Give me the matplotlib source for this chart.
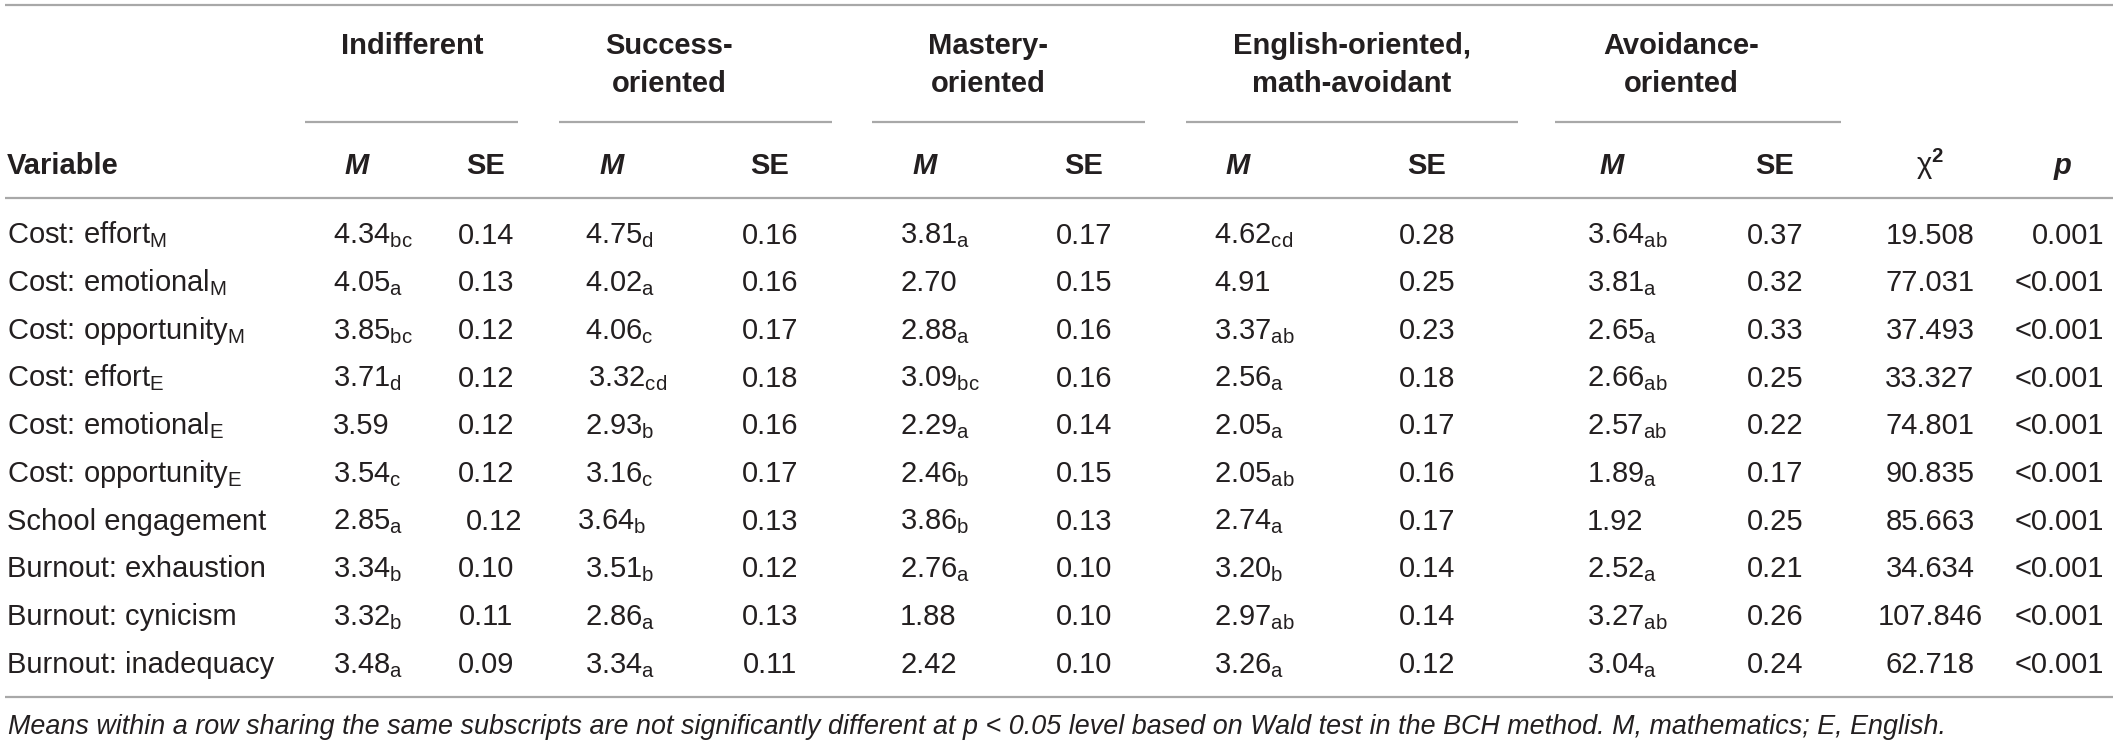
import matplotlib
matplotlib.use("Agg")
import matplotlib.pyplot as plt

#%%
# table content
VARIABLES = ["Cost: effort", "Cost: emotional", "Cost: opportunity",
             "Cost: effort", "Cost: emotional", "Cost: opportunity",
             "School engagement", "Burnout: exhaustion", "Burnout: cynicism",
             "Burnout: inadequacy"]
VAR_SUBS = ["M", "M", "M", "E", "E", "E", "", "", "", ""]

GROUPS = [["Indifferent"], ["Success-", "oriented"], ["Mastery-", "oriented"],
          ["English-oriented,", "math-avoidant"], ["Avoidance-", "oriented"]]

indiff_m = ["4.34", "4.05", "3.85", "3.71", "3.59", "3.54", "2.85", "3.34", "3.32", "3.48"]
indiff_sub = ["bc", "a", "bc", "d", "", "c", "a", "b", "b", "a"]
indiff_se = ["0.14", "0.13", "0.12", "0.12", "0.12", "0.12", "0.12", "0.10", "0.11", "0.09"]

success_m = ["4.75", "4.02", "4.06", "3.32", "2.93", "3.16", "3.64", "3.51", "2.86", "3.34"]
success_sub = ["d", "a", "c", "cd", "b", "c", "b", "b", "a", "a"]
success_se = ["0.16", "0.16", "0.17", "0.18", "0.16", "0.17", "0.13", "0.12", "0.13", "0.11"]

mastery_m = ["3.81", "2.70", "2.88", "3.09", "2.29", "2.46", "3.86", "2.76", "1.88", "2.42"]
mastery_sub = ["a", "", "a", "bc", "a", "b", "b", "a", "", ""]
mastery_se = ["0.17", "0.15", "0.16", "0.16", "0.14", "0.15", "0.13", "0.10", "0.10", "0.10"]

english_m = ["4.62", "4.91", "3.37", "2.56", "2.05", "2.05", "2.74", "3.20", "2.97", "3.26"]
english_sub = ["cd", "", "ab", "a", "a", "ab", "a", "b", "ab", "a"]
english_se = ["0.28", "0.25", "0.23", "0.18", "0.17", "0.16", "0.17", "0.14", "0.14", "0.12"]

avoid_m = ["3.64", "3.81", "2.65", "2.66", "2.57", "1.89", "1.92", "2.52", "3.27", "3.04"]
avoid_sub = ["ab", "a", "a", "ab", "ab", "a", "", "a", "ab", "a"]
avoid_se = ["0.37", "0.32", "0.33", "0.25", "0.22", "0.17", "0.25", "0.21", "0.26", "0.24"]

chi2 = ["19.508", "77.031", "37.493", "33.327", "74.801", "90.835", "85.663",
        "34.634", "107.846", "62.718"]
p_vals = ["0.001", "<0.001", "<0.001", "<0.001", "<0.001", "<0.001", "<0.001",
          "<0.001", "<0.001", "<0.001"]

FOOTNOTE = ("Means within a row sharing the same subscripts are not significantly "
            "different at p < 0.05 level based on Wald test in the BCH method. "
            "M, mathematics; E, English.")

#%%
# layout (pixel units of the 2118x743 picture)
W, H = 2118, 743
M_LEFT = [333, 585, 900, 1214, 1587]       # left edge of mean values
M_HEAD = [357, 612, 925, 1238, 1612]       # centre of "M" header
SE_X = [486, 770, 1084, 1427, 1775]        # centre of SE column
GROUP_X = [412, 669, 988, 1352, 1681]      # centre of group title
SPANS = [(305, 518), (559, 832), (872, 1145), (1186, 1518), (1555, 1841)]
CHI_X, P_X = 1930, 2104
ROW0, ROW_STEP = 233, 47.7
# small hand offsets seen in the original typesetting (row, column) -> dx
NUDGE = {(6, "se0"): 8, (6, "m1"): -8, (3, "m1"): 3}

TXT = "#231f20"
RULE = "#a8a8a8"
FS = 21

plt.rcParams['font.family'] = ['Liberation Sans', 'DejaVu Sans']
plt.rcParams['mathtext.fontset'] = 'custom'
plt.rcParams['mathtext.rm'] = 'Liberation Sans'
plt.rcParams['mathtext.it'] = 'Liberation Sans:italic'
plt.rcParams['mathtext.bf'] = 'Liberation Sans:bold'

fig = plt.figure(figsize=(W / 100, H / 100), dpi=100)
ax = fig.add_axes([0, 0, 1, 1])
ax.set_xlim(0, W)
ax.set_ylim(H, 0)
ax.axis('off')

BASE = 10.5  # centre -> baseline


def put(x, y, s, ha="left", fs=FS, **kw):
    ax.text(x, y + BASE, s, ha=ha, va="baseline", fontsize=fs, color=TXT, **kw)


def with_sub(v, sub):
    return v + (r"$_{\mathrm{%s}}$" % sub if sub else "")


def rule(y, x0=5, x1=2113):
    ax.plot([x0, x1], [y, y], color=RULE, lw=1.6, solid_capstyle="butt")


#%%
# rules
rule(5)
rule(198)
rule(697)
for x0, x1 in SPANS:
    rule(122, x0, x1)

# group titles
for gx, lines in zip(GROUP_X, GROUPS):
    for k, line in enumerate(lines):
        put(gx, 43 + k * 38, line, ha="center", fontweight="bold")

# column headers
put(7, 163, "Variable", fontweight="bold")
for mx, sx in zip(M_HEAD, SE_X):
    put(mx, 163, "M", ha="center", fontweight="bold", fontstyle="italic")
    put(sx, 163, "SE", ha="center", fontweight="bold")
put(CHI_X, 163, r"χ$^{\mathbf{2}}$", ha="center")
put(2063, 163, "p", ha="center", fontweight="bold", fontstyle="italic")

# body
means = [indiff_m, success_m, mastery_m, english_m, avoid_m]
subs = [indiff_sub, success_sub, mastery_sub, english_sub, avoid_sub]
ses = [indiff_se, success_se, mastery_se, english_se, avoid_se]

for i, (var, vs) in enumerate(zip(VARIABLES, VAR_SUBS)):
    y = ROW0 + i * ROW_STEP
    put(7, y, with_sub(var, vs))
    for g in range(5):
        put(M_LEFT[g] + NUDGE.get((i, "m%d" % g), 0), y,
            with_sub(means[g][i], subs[g][i]))
        put(SE_X[g] + NUDGE.get((i, "se%d" % g), 0), y, ses[g][i], ha="center")
    put(CHI_X, y, chi2[i], ha="center")
    put(P_X, y, p_vals[i], ha="right")

put(8, 723, FOOTNOTE, fs=19.4, fontstyle="italic")

fig.savefig("out.png", dpi=100)
